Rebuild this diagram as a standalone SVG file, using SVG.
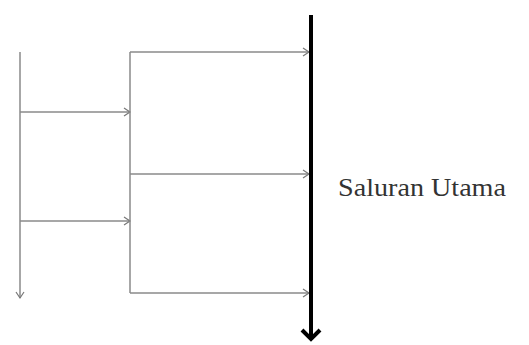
<svg xmlns="http://www.w3.org/2000/svg" width="529" height="345" viewBox="0 0 529 345">
<defs>
<marker id="ah" markerWidth="10" markerHeight="10" refX="8" refY="5" orient="auto" markerUnits="userSpaceOnUse">
<path d="M2,1 L8,5 L2,9" fill="none" stroke="#777" stroke-width="1.2"/>
</marker>
<marker id="ahb" markerWidth="22" markerHeight="14" refX="11" refY="11" orient="0" markerUnits="userSpaceOnUse">
<path d="M2,2 L11,11 L20,2" fill="none" stroke="#000" stroke-width="4"/>
</marker>
</defs>
<style>
.g{stroke:#8a8a8a;stroke-width:1.5;fill:none}
.t{font-family:"Liberation Serif",serif;font-size:26px;fill:#333}
</style>
<rect width="529" height="345" fill="#fff"/>
<g id="connectors">
<line class="g" x1="20" y1="52" x2="20" y2="298" marker-end="url(#ah)"/>
<line class="g" x1="20" y1="112" x2="130" y2="112" marker-end="url(#ah)"/>
<line class="g" x1="20" y1="221" x2="130" y2="221" marker-end="url(#ah)"/>
<polyline class="g" points="130,52 130,293"/>
<line class="g" x1="130" y1="52" x2="309" y2="52" marker-end="url(#ah)"/>
<line class="g" x1="130" y1="174" x2="309" y2="174" marker-end="url(#ah)"/>
<line class="g" x1="130" y1="293" x2="309" y2="293" marker-end="url(#ah)"/>
</g>
<g id="saluran-utama">
<line x1="311" y1="15" x2="311" y2="339" stroke="#000" stroke-width="4" marker-end="url(#ahb)"/>
<text class="t" x="338" y="196" textLength="168" lengthAdjust="spacingAndGlyphs">Saluran Utama</text>
</g>
</svg>
